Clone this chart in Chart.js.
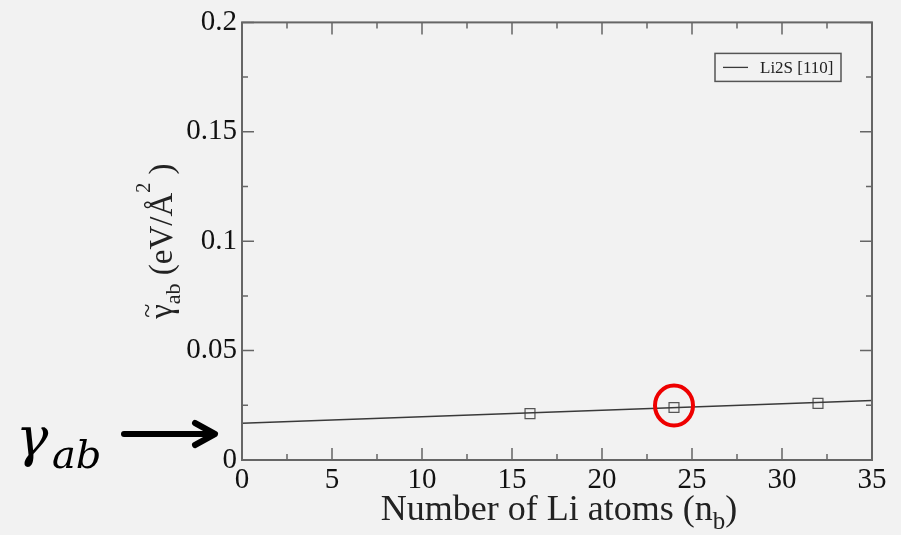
<!DOCTYPE html>
<html>
<head>
<meta charset="utf-8">
<script src="https://cdn.jsdelivr.net/npm/chart.js@4.4.0/dist/chart.umd.min.js"></script>
<style>
  body { margin: 0; background: #f2f2f2; }
  canvas { display: block; background: #f2f2f2; }
</style>
</head>
<body>
<canvas id="gammaChart" width="901" height="535"></canvas>
<script>
// computed points (number of Li atoms vs interface energy)
const nLi = [16, 24, 32];
const gammaAb = [0.0212, 0.0240, 0.0259];
// linear fit drawn across the whole axis
const fitX = [0, 35];
const fitY = [0.0168, 0.0272];
const seriesLabel = 'Li2S [110]';
// ticks
const xTicks = [0, 5, 10, 15, 20, 25, 30, 35];
const yTicks = [0, 0.05, 0.1, 0.15, 0.2];
const yTickLabels = ['0', '0.05', '0.1', '0.15', '0.2'];
const markedN = 24;

const serif = "'Liberation Serif', 'Times New Roman', serif";
const axisColor = '#666';

function drawSubText(ctx, parts, x, y) {
  // parts: [text, size, shift]
  let cx = x;
  for (const p of parts) {
    ctx.font = p[1] + 'px ' + serif;
    ctx.fillText(p[0], cx, y + p[2]);
    cx += ctx.measureText(p[0]).width;
  }
  return cx - x;
}
function measureParts(ctx, parts) {
  let w = 0;
  for (const p of parts) {
    ctx.font = p[1] + 'px ' + serif;
    w += ctx.measureText(p[0]).width;
  }
  return w;
}

const decorations = {
  id: 'decorations',
  afterDraw(chart) {
    const ctx = chart.ctx;
    const a = chart.chartArea;
    const xs = chart.scales.x, ys = chart.scales.y;

    ctx.save();
    // inward ticks on all four sides
    ctx.strokeStyle = axisColor;
    ctx.lineWidth = 1.5;
    const tick = (len, v, isX) => {
      ctx.beginPath();
      if (isX) {
        const px = xs.getPixelForValue(v);
        ctx.moveTo(px, a.bottom); ctx.lineTo(px, a.bottom - len);
        ctx.moveTo(px, a.top); ctx.lineTo(px, a.top + len);
      } else {
        const py = ys.getPixelForValue(v);
        ctx.moveTo(a.left, py); ctx.lineTo(a.left + len, py);
        ctx.moveTo(a.right, py); ctx.lineTo(a.right - len, py);
      }
      ctx.stroke();
    };
    xTicks.forEach((v, i) => {
      tick(12, v, true);
      if (i < xTicks.length - 1) tick(6, (v + xTicks[i + 1]) / 2, true);
    });
    yTicks.forEach((v, i) => {
      tick(12, v, false);
      if (i < yTicks.length - 1) tick(6, (v + yTicks[i + 1]) / 2, false);
    });
    // frame
    ctx.lineWidth = 2;
    ctx.strokeRect(a.left, a.top, a.right - a.left, a.bottom - a.top);

    // legend
    const lx = a.right - 157, ly = a.top + 31;
    ctx.lineWidth = 1.5;
    ctx.strokeStyle = '#555';
    ctx.strokeRect(lx, ly, 126, 28);
    ctx.strokeStyle = '#3a3a3a';
    ctx.lineWidth = 1.3;
    ctx.beginPath();
    ctx.moveTo(lx + 8, ly + 14); ctx.lineTo(lx + 33, ly + 14);
    ctx.stroke();
    ctx.fillStyle = '#222';
    ctx.font = '17px ' + serif;
    ctx.textBaseline = 'alphabetic';
    ctx.fillText(seriesLabel, lx + 45, ly + 20);

    // x axis title
    ctx.fillStyle = '#222';
    const xParts = [['Number of Li atoms (n', 36, 0], ['b', 25, 9], [')', 36, 0]];
    const xw = measureParts(ctx, xParts);
    drawSubText(ctx, xParts, (a.left + a.right) / 2 - xw / 2 + 2, a.bottom + 60);

    // y axis title (rotated)
    const yParts = [['\u03b3', 33, 0], ['ab', 22, 8], [' (eV/\u00c5', 33, 0], ['2', 20, -22], [' )', 33, 0]];
    const yw = measureParts(ctx, yParts);
    ctx.save();
    ctx.translate(a.left - 70, (a.top + a.bottom) / 2 + yw / 2);
    ctx.rotate(-Math.PI / 2);
    drawSubText(ctx, yParts, 0, 0);
    // tilde over gamma
    ctx.font = '26px ' + serif;
    ctx.fillText('~', 1, -17);
    ctx.restore();

    // red circle around the marked point
    const ci = nLi.indexOf(markedN);
    const cx = xs.getPixelForValue(nLi[ci]);
    const cy = ys.getPixelForValue(gammaAb[ci]) - 2;
    ctx.strokeStyle = '#ee0000';
    ctx.lineWidth = 4;
    ctx.beginPath();
    ctx.ellipse(cx, cy, 19, 20, 0, 0, Math.PI * 2);
    ctx.stroke();

    // left annotation: gamma_ab with arrow
    ctx.fillStyle = '#000';
    ctx.font = "italic 54px 'DejaVu Serif', serif";
    ctx.fillText('\u03b3', 16, 456);
    ctx.font = "italic 40px 'DejaVu Serif', serif";
    ctx.fillText('ab', 52, 468);
    ctx.strokeStyle = '#000';
    ctx.lineWidth = 6;
    ctx.lineCap = 'round';
    ctx.lineJoin = 'round';
    ctx.beginPath();
    ctx.moveTo(124, 434); ctx.lineTo(212, 434);
    ctx.stroke();
    ctx.beginPath();
    ctx.moveTo(195, 423); ctx.lineTo(215, 434); ctx.lineTo(195, 445);
    ctx.stroke();
    ctx.restore();
  }
};

new Chart(document.getElementById('gammaChart'), {
  type: 'scatter',
  data: {
    datasets: [{
      label: seriesLabel,
      data: fitX.map((x, i) => ({ x: x, y: fitY[i] })),
      showLine: true,
      borderColor: '#3a3a3a',
      borderWidth: 1.3,
      pointRadius: 0,
      fill: false
    }, {
      label: 'computed',
      data: nLi.map((x, i) => ({ x: x, y: gammaAb[i] })),
      showLine: false,
      pointStyle: 'rect',
      pointRadius: 7,
      borderColor: '#555',
      borderWidth: 1.2,
      backgroundColor: 'rgba(0,0,0,0)'
    }]
  },
  options: {
    responsive: false,
    animation: false,
    devicePixelRatio: 1,
    layout: { padding: { top: 19, right: 29, left: 0, bottom: 0 } },
    plugins: { legend: { display: false }, tooltip: { enabled: false } },
    scales: {
      x: {
        type: 'linear',
        min: 0,
        max: 35,
        afterBuildTicks: s => { s.ticks = xTicks.map(v => ({ value: v })); },
        afterFit: s => { s.height = 75; },
        ticks: {
          font: { family: serif, size: 29 },
          color: '#111',
          padding: 3,
          maxRotation: 0,
          autoSkip: false
        },
        grid: { display: false, drawTicks: false },
        border: { display: false }
      },
      y: {
        type: 'linear',
        min: 0,
        max: 0.2,
        afterBuildTicks: s => { s.ticks = yTicks.map(v => ({ value: v })); },
        afterFit: s => { s.width = 242; },
        ticks: {
          font: { family: serif, size: 29 },
          color: '#111',
          padding: 5,
          autoSkip: false,
          callback: (v, i) => yTickLabels[i]
        },
        grid: { display: false, drawTicks: false },
        border: { display: false }
      }
    }
  },
  plugins: [decorations]
});
</script>
</body>
</html>
